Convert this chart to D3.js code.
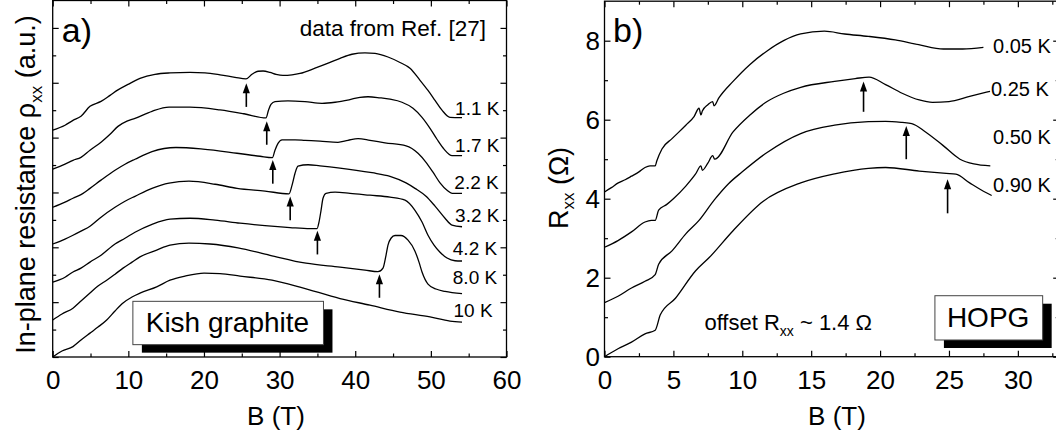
<!DOCTYPE html>
<html><head><meta charset="utf-8">
<script src="https://cdn.jsdelivr.net/npm/d3@7"></script>
<style>body{margin:0;background:#fff}svg{display:block}</style>
</head><body><svg id="c" width="1056" height="435"></svg>
<script>
// ---------- Panel a) Kish graphite (data from Ref. [27]) ----------
const kishTemps = ["1.1 K","1.7 K","2.2 K","3.2 K","4.2 K","8.0 K","10 K"];
const kish11B = [0,1.63,2.68,3.74,4.93,6.39,7.58,8.63,9.96,11.54,13.53,15.51,18.15,20.14,22.12,24.10,25.56,26.35,27.15,27.81,28.73,29.53,30.45,31.64,32.70,34.68,36.67,37.99,39.57,41.29,42.62,44.33,45.92,47.24,48.57,49.62,50.55,51.47,52.53,54.12];
const kish11R = [8.27,8.45,8.63,8.78,9.14,9.32,9.54,9.74,9.94,10.16,10.31,10.36,10.38,10.36,10.29,10.20,10.14,10.31,10.42,10.43,10.38,10.31,10.27,10.29,10.34,10.53,10.74,10.89,11.04,11.09,11.07,10.94,10.74,10.53,10.09,9.72,9.36,9.00,8.74,8.73];
const kish17B = [0,1.63,2.68,3.74,4.93,6.39,7.58,8.63,9.82,10.88,13.13,15.38,18.15,22.12,25.29,28.20,28.53,28.86,29.39,31.11,33.36,35.61,37.33,39.18,40.63,41.69,43.28,44.60,46.18,47.64,48.83,49.89,50.81,51.74,52.80,54.12];
const kish17R = [6.85,7.03,7.17,7.28,7.54,7.83,8.12,8.41,8.60,8.70,8.96,9.11,9.11,9.01,8.87,8.72,9.00,9.21,9.31,9.34,9.31,9.25,9.29,9.38,9.47,9.49,9.45,9.40,9.29,9.07,8.74,8.34,7.94,7.58,7.34,7.34];
const kish22B = [0,1.63,2.68,3.74,4.93,6.39,8.24,9.56,10.88,13.13,16.30,19.87,24.37,27.41,29.05,29.39,29.79,30.32,32.04,33.36,35.34,37.72,39.04,40.37,41.95,43.94,46.72,48.30,49.36,50.28,51.21,52.14,52.80,54.12];
const kish22R = [5.46,5.65,5.79,5.92,6.15,6.45,6.81,7.03,7.21,7.49,7.64,7.58,7.43,7.32,7.27,7.54,7.79,7.92,7.92,7.90,7.87,7.83,7.90,7.96,7.90,7.81,7.70,7.43,7.10,6.74,6.35,6.08,5.97,5.97];
const kish32B = [0,1.63,2.68,3.74,4.93,6.39,8.24,9.56,10.88,13.13,15.38,18.02,21.47,24.37,28.07,31.24,31.64,32.04,32.43,33.76,35.34,37.72,42.22,44.60,46.72,47.90,49.36,50.55,51.87,52.80,54.12];
const kish32R = [4.12,4.30,4.44,4.59,4.77,5.10,5.46,5.68,5.86,6.15,6.34,6.41,6.30,6.15,6.05,5.95,6.26,6.70,6.96,7.01,6.97,6.90,6.72,6.59,6.35,6.15,5.86,5.50,5.06,4.81,4.75];
const kish42B = [0,1.63,2.68,3.74,4.93,6.39,8.24,9.56,10.88,13.13,15.51,18.15,21.47,24.77,28.07,31.38,34.02,34.95,35.21,35.48,35.74,36.14,37.33,39.31,41.95,44.60,46.58,47.90,48.83,49.62,50.42,51.21,52.14,53.19,54.12];
const kish42R = [2.73,2.91,3.10,3.24,3.46,3.71,4.12,4.33,4.55,4.84,5.03,5.06,4.99,4.88,4.79,4.72,4.68,4.68,4.92,5.35,5.79,5.97,6.01,5.97,5.90,5.83,5.72,5.35,4.92,4.44,4.08,3.82,3.61,3.51,3.50];
const kish80B = [0,1.23,2.68,3.74,4.93,5.99,7.14,8.24,9.30,10.49,11.54,13.75,15.51,18.02,20.80,24.50,28.73,33.49,37.99,41.29,43.01,43.67,44.07,44.33,44.73,45.26,46.05,46.98,47.90,48.43,48.83,49.62,50.68,51.87,54.12];
const kish80R = [1.35,1.57,1.78,2.04,2.33,2.59,2.80,3.02,3.24,3.46,3.65,3.90,4.08,4.15,4.12,3.98,3.71,3.42,3.28,3.17,3.11,3.24,3.71,4.08,4.33,4.43,4.43,4.26,3.86,3.46,3.10,2.66,2.48,2.39,2.31];
const kish10B = [0,1.23,2.68,3.74,4.93,5.99,7.14,8.24,9.30,10.49,11.54,13.75,15.51,17.49,20.01,22.12,24.77,29.0,32.70,37.99,41.95,45.92,49.89,52.53,54.12];
const kish10R = [0,0.22,0.38,0.62,0.87,1.09,1.35,1.68,1.97,2.19,2.33,2.56,2.80,2.95,3.06,3.04,2.95,2.80,2.55,2.13,1.89,1.64,1.46,1.31,1.27];
const kishLabelB = [53.2,53.2,53.1,53.2,52.9,52.9,53.0];
const kishLabelY = [8.81,7.47,6.14,4.92,3.71,2.66,1.46];
const kishArrowB = [25.6,28.3,29.1,31.4,35.0,43.2];
const kishArrowTip = [9.98,8.60,7.18,5.85,4.60,3.02];
const kishArrowTail = [9.12,7.74,6.32,4.99,3.74,2.16];
const kishXMajor = [0,10,20,30,40,50,60];
const kishXMinor = [5,15,25,35,45,55];
const kishYMajor = [0,2,4,6,8,10,12];
const kishYMinor = [1,3,5,7,9,11];

// ---------- Panel b) HOPG ----------
const hopgTemps = ["0.05 K","0.25 K","0.50 K","0.90 K"];
const hopg005B = [0,0.5,1.0,1.5,1.96,2.5,2.94,3.3,3.68,3.8,4.17,4.9,5.9,6.5,6.86,7.0,7.1,7.5,7.85,7.95,8.3,9.33,10.56,11.8,13.0,14.24,15.96,17.43,19.15,21.1,22.8,24.6,26.0,27.5];
const hopg005R = [4.17,4.28,4.40,4.48,4.57,4.68,4.79,4.83,4.83,4.96,5.26,5.52,5.86,6.08,6.29,6.12,6.22,6.38,6.46,6.35,6.55,6.97,7.40,7.74,8.00,8.17,8.24,8.17,8.11,8.02,7.90,7.79,7.79,7.83];
const hopg025B = [0,0.98,1.96,2.94,3.4,3.68,3.93,4.5,5.0,5.9,6.6,7.0,7.1,7.5,7.85,8.0,9.33,10.56,11.8,13.0,14.24,16.7,18.2,19.2,20.4,21.6,22.84,23.8,25.0,26.5,27.98];
const hopg025R = [2.77,2.94,3.16,3.41,3.45,3.45,3.71,3.85,4.0,4.32,4.62,4.83,4.72,4.90,5.09,5.00,5.69,6.12,6.46,6.67,6.82,6.97,7.04,7.08,6.89,6.67,6.50,6.44,6.46,6.59,6.72];
const hopg050B = [0,0.98,1.96,2.94,3.68,3.93,4.9,5.9,6.86,7.97,9.0,10.0,11.8,14.24,16.7,19.15,20.4,21.6,22.3,23.3,24.56,25.8,26.8,28.0];
const hopg050R = [1.37,1.53,1.74,1.91,2.08,2.34,2.68,3.11,3.45,3.97,4.38,4.68,5.17,5.65,5.86,5.95,5.96,5.93,5.90,5.69,5.35,5.00,4.88,4.83];
const hopg090B = [0,0.98,1.96,2.94,3.68,4.05,5.15,6.6,7.6,9.33,11.5,14.24,16.7,19.15,20.4,22.84,24.8,25.5,26.5,27.5,28.1];
const hopg090R = [0,0.20,0.37,0.58,0.67,1.06,1.48,2.17,2.51,3.19,3.93,4.40,4.63,4.77,4.79,4.70,4.64,4.62,4.40,4.19,4.08];
const hopgLabelB = [28.2,28.05,28.2,28.2];
const hopgLabelR = [7.68,6.60,5.38,4.17];
const hopgArrowB = [18.8,21.9,24.9];
const hopgArrowTip = [6.97,5.84,4.49];
const hopgArrowTail = [6.20,5.00,3.63];
const hopgXMajor = [0,5,10,15,20,25,30];
const hopgXMinor = [2.5,7.5,12.5,17.5,22.5,27.5,32.5];
const hopgYMajor = [0,2,4,6,8];
const hopgYMinor = [1,3,5,7];

// ---------- drawing ----------
const FONT = '"Liberation Sans", Arial, Helvetica, sans-serif';
const svg = d3.select("#c").attr("font-family", FONT);
svg.append("rect").attr("width",1056).attr("height",435).attr("fill","#fff");

const xa = d3.scaleLinear().domain([0,60]).range([52.7,506.5]);
const ya = d3.scaleLinear().domain([0,13]).range([357,0.5]);
const xb = d3.scaleLinear().domain([0,33]).range([604.5,1059.2]);
const yb = d3.scaleLinear().domain([0,9]).range([356.7,1.2]);

function styleAxis(g, fs) {
  g.select(".domain").remove();
  g.selectAll("line").attr("stroke","#000").attr("stroke-width",1.2);
  g.attr("font-size", fs).attr("font-family", FONT);
  g.selectAll("text").attr("fill","#000");
}

function panel(x, y, xMaj, xMin, yMaj, yMin, yLabels) {
  const [xl, xr] = x.range();
  const [yB, yT] = y.range();
  const g = svg.append("g");
  const fmt = d3.format("d");
  g.append("g").attr("transform",`translate(0,${yB})`)
    .call(d3.axisBottom(x).tickValues(xMaj).tickSize(-6).tickPadding(14).tickFormat(fmt)).call(a=>styleAxis(a,26));
  g.append("g").attr("transform",`translate(0,${yB})`)
    .call(d3.axisBottom(x).tickValues(xMin).tickSize(-3.5).tickFormat("")).call(a=>styleAxis(a,26));
  g.append("g").attr("transform",`translate(0,${yT})`)
    .call(d3.axisTop(x).tickValues(xMaj).tickSize(-6).tickFormat("")).call(a=>styleAxis(a,26));
  g.append("g").attr("transform",`translate(0,${yT})`)
    .call(d3.axisTop(x).tickValues(xMin).tickSize(-3.5).tickFormat("")).call(a=>styleAxis(a,26));
  g.append("g").attr("transform",`translate(${xl},0)`)
    .call(d3.axisLeft(y).tickValues(yMaj).tickSize(-6).tickPadding(4.5).tickFormat(yLabels ? fmt : "")).call(a=>styleAxis(a,26));
  g.append("g").attr("transform",`translate(${xl},0)`)
    .call(d3.axisLeft(y).tickValues(yMin).tickSize(-3.5).tickFormat("")).call(a=>styleAxis(a,26));
  g.append("g").attr("transform",`translate(${xr},0)`)
    .call(d3.axisRight(y).tickValues(yMaj).tickSize(-6).tickFormat("")).call(a=>styleAxis(a,26));
  g.append("g").attr("transform",`translate(${xr},0)`)
    .call(d3.axisRight(y).tickValues(yMin).tickSize(-3.5).tickFormat("")).call(a=>styleAxis(a,26));
  g.append("rect").attr("x",xl).attr("y",yT).attr("width",xr-xl).attr("height",yB-yT)
    .attr("fill","none").attr("stroke","#000").attr("stroke-width",1.3);
  return g;
}

function curves(x, y, Bs, Rs) {
  const line = d3.line().x(d=>x(d[0])).y(d=>y(d[1])).curve(d3.curveMonotoneX);
  Bs.forEach((B,i)=>{
    const pts = B.map((b,j)=>[b, Rs[i][j]]);
    svg.append("path").attr("d", line(pts)).attr("fill","none")
      .attr("stroke","#000").attr("stroke-width",1.3).attr("stroke-linejoin","round");
  });
}

function arrows(x, y, Bs, tips, tails) {
  Bs.forEach((b,i)=>{
    const px = x(b), ty = y(tips[i]), tl = y(tails[i]);
    svg.append("line").attr("x1",px).attr("x2",px).attr("y1",tl).attr("y2",ty+7)
      .attr("stroke","#000").attr("stroke-width",1.6);
    svg.append("path").attr("d",`M${px},${ty} L${px-3.6},${ty+10} L${px+3.6},${ty+10} Z`).attr("fill","#000");
  });
}

function labelBox(x0, y0, x1, y1, txt, tx, ty, fs) {
  svg.append("rect").attr("x",x0+9).attr("y",y0+8).attr("width",x1-x0).attr("height",y1-y0).attr("fill","#000");
  svg.append("rect").attr("x",x0).attr("y",y0).attr("width",x1-x0).attr("height",y1-y0)
    .attr("fill","#fff").attr("stroke","#444").attr("stroke-width",1);
  svg.append("text").attr("x",tx).attr("y",ty).attr("font-size",fs).attr("fill","#000").text(txt);
}

// ----- panel a -----
panel(xa, ya, kishXMajor, kishXMinor, kishYMajor, kishYMinor, false);
curves(xa, ya, [kish11B,kish17B,kish22B,kish32B,kish42B,kish80B,kish10B],
               [kish11R,kish17R,kish22R,kish32R,kish42R,kish80R,kish10R]);
arrows(xa, ya, kishArrowB, kishArrowTip, kishArrowTail);
kishTemps.forEach((t,i)=>{
  svg.append("text").attr("x",xa(kishLabelB[i])).attr("y",ya(kishLabelY[i]))
    .attr("font-size",19).attr("fill","#000").text(t);
});
labelBox(xa(10.6), ya(2.03), xa(35.8), ya(0.45), "Kish graphite", xa(12.3), ya(0.91), 28);
svg.append("text").attr("x",xa(57.3)).attr("y",ya(11.72)).attr("text-anchor","end")
  .attr("font-size",22.5).attr("fill","#000").text("data from Ref. [27]");
svg.append("text").attr("x",xa(1.2)).attr("y",ya(11.5)).attr("font-size",34).attr("fill","#000").text("a)");
svg.append("text").attr("x",276).attr("y",425)
  .attr("text-anchor","middle").attr("font-size",26).attr("fill","#000").text("B (T)");
{
  const t = svg.append("text").attr("transform","translate(35,184.5) rotate(-90)")
    .attr("text-anchor","middle").attr("font-size",27).attr("fill","#000");
  t.append("tspan").text("In-plane resistance \u03C1");
  t.append("tspan").attr("font-size",17).attr("dy",7).text("xx");
  t.append("tspan").attr("dy",-7).text(" (a.u.)");
}

// ----- panel b -----
panel(xb, yb, hopgXMajor, hopgXMinor, hopgYMajor, hopgYMinor, true);
curves(xb, yb, [hopg005B,hopg025B,hopg050B,hopg090B], [hopg005R,hopg025R,hopg050R,hopg090R]);
arrows(xb, yb, hopgArrowB, hopgArrowTip, hopgArrowTail);
hopgTemps.forEach((t,i)=>{
  svg.append("text").attr("x",xb(hopgLabelB[i])).attr("y",yb(hopgLabelR[i]))
    .attr("font-size",20).attr("fill","#000").text(t);
});
labelBox(xb(23.98), yb(1.544), xb(31.8), yb(0.423), "HOPG", xb(24.85), yb(0.74), 28);
{
  const t = svg.append("text").attr("x",xb(7.25)).attr("y",yb(0.67)).attr("font-size",22).attr("fill","#000");
  t.append("tspan").text("offset R");
  t.append("tspan").attr("font-size",14).attr("dy",6).text("xx");
  t.append("tspan").attr("dy",-6).text(" ~ 1.4 \u03A9");
}
svg.append("text").attr("x",613).attr("y",41.5).attr("font-size",34).attr("fill","#000").text("b)");
svg.append("text").attr("x",837).attr("y",425)
  .attr("text-anchor","middle").attr("font-size",26).attr("fill","#000").text("B (T)");
{
  const t = svg.append("text").attr("transform","translate(568,188) rotate(-90)")
    .attr("text-anchor","middle").attr("font-size",27).attr("fill","#000");
  t.append("tspan").text("R");
  t.append("tspan").attr("font-size",17).attr("dy",6).text("xx");
  t.append("tspan").attr("dy",-6).text(" (\u03A9)");
}
</script>
</body></html>
